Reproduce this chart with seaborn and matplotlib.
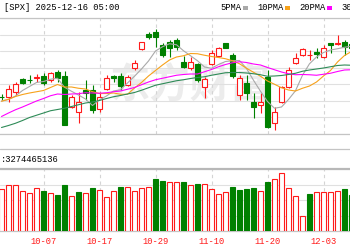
import numpy as np
import matplotlib
matplotlib.use("Agg")
import matplotlib.pyplot as plt
from matplotlib.lines import Line2D
from matplotlib.patches import Rectangle
import seaborn as sns

# ---------------- data ----------------
title_text = "[SPX] 2025-12-16 05:00"
volume_text = ":3274465136"
legend_names = ["5PMA", "10PMA", "20PMA", "30PMA"]
date_labels = ["09-25", "10-07", "10-17", "10-29", "11-10", "11-20", "12-03"]
date_label_idx = [-2, 6, 14, 22, 30, 38, 46]

opens = [6646, 6644, 6664, 6716, 6714, 6722, 6728, 6712, 6744, 6728,
         6604, 6584, 6672, 6672, 6596, 6676, 6728, 6728, 6692, 6760,
         6836, 6896, 6904, 6852, 6864, 6872, 6784, 6760, 6776, 6684,
         6776, 6808, 6860, 6812, 6652, 6700, 6624, 6612, 6724, 6540,
         6624, 6684, 6780, 6812, 6812, 6826, 6804, 6860, 6858, 6864, 6856]
highs = [6656, 6692, 6704, 6720, 6732, 6736, 6740, 6744, 6752, 6748,
         6652, 6664, 6712, 6692, 6664, 6732, 6732, 6740, 6732, 6792,
         6866, 6904, 6916, 6860, 6872, 6880, 6808, 6804, 6780, 6724,
         6832, 6844, 6862, 6820, 6732, 6732, 6660, 6660, 6752, 6604,
         6688, 6764, 6820, 6840, 6832, 6840, 6852, 6860, 6892, 6872, 6864]
lows = [6632, 6624, 6652, 6696, 6700, 6704, 6692, 6704, 6704, 6532,
        6600, 6540, 6632, 6580, 6584, 6672, 6704, 6672, 6688, 6752,
        6834, 6876, 6844, 6804, 6804, 6832, 6760, 6752, 6704, 6640,
        6772, 6804, 6840, 6720, 6632, 6632, 6560, 6580, 6520, 6512,
        6620, 6680, 6778, 6808, 6792, 6800, 6800, 6820, 6852, 6812, 6832]
closes = [6644, 6676, 6696, 6700, 6712, 6724, 6700, 6740, 6720, 6532,
          6644, 6624, 6660, 6592, 6644, 6720, 6722, 6688, 6724, 6780,
          6864, 6886, 6884, 6812, 6840, 6844, 6764, 6784, 6712, 6716,
          6820, 6840, 6842, 6728, 6720, 6660, 6604, 6624, 6524, 6584,
          6684, 6752, 6800, 6836, 6814, 6818, 6840, 6852, 6860, 6844, 6840]
volumes = [2085, 2300, 2300, 2000, 1915, 2135, 2000, 1885, 1800, 2300,
           1750, 1935, 1885, 2165, 2050, 1715, 2025, 2215, 2185, 2000,
           2135, 2215, 2585, 2515, 2435, 2435, 2435, 2300, 2350, 2350,
           2085, 1835, 1935, 2215, 2050, 2085, 2165, 2015, 2435, 2600,
           2885, 2135, 1750, 750, 1835, 1935, 1935, 1935, 2015, 2085, 1800]
ma5 = [6628, 6634, 6648, 6670, 6686, 6702, 6706, 6715, 6719, 6683,
       6667, 6652, 6636, 6610, 6633, 6648, 6668, 6673, 6700, 6727,
       6756, 6788, 6828, 6845, 6857, 6853, 6829, 6809, 6789, 6764,
       6759, 6774, 6786, 6789, 6790, 6758, 6711, 6667, 6626, 6599,
       6604, 6634, 6669, 6731, 6777, 6804, 6822, 6832, 6837, 6843, 6847]
ma10 = [6627, 6635, 6646, 6654, 6660, 6665, 6670, 6682, 6694, 6684,
        6684, 6679, 6676, 6665, 6658, 6658, 6660, 6655, 6655, 6680,
        6702, 6728, 6750, 6772, 6792, 6804, 6809, 6818, 6817, 6811,
        6806, 6802, 6797, 6789, 6777, 6759, 6743, 6727, 6708, 6695,
        6681, 6672, 6668, 6679, 6688, 6704, 6728, 6750, 6784, 6810, 6826]
ma20 = [6566, 6580, 6593, 6604, 6616, 6628, 6638, 6649, 6656, 6654,
        6656, 6657, 6661, 6660, 6659, 6661, 6665, 6668, 6675, 6682,
        6693, 6704, 6713, 6719, 6725, 6731, 6734, 6736, 6736, 6745,
        6754, 6765, 6774, 6781, 6785, 6782, 6776, 6772, 6762, 6753,
        6744, 6737, 6733, 6734, 6733, 6731, 6735, 6739, 6746, 6752, 6753]
ma30 = [6522, 6530, 6539, 6550, 6562, 6571, 6580, 6589, 6594, 6599,
        6606, 6613, 6620, 6624, 6630, 6638, 6645, 6650, 6656, 6662,
        6671, 6681, 6691, 6697, 6703, 6709, 6713, 6718, 6722, 6725,
        6731, 6736, 6741, 6742, 6742, 6740, 6737, 6733, 6727, 6728,
        6730, 6734, 6739, 6747, 6752, 6756, 6760, 6765, 6770, 6772, 6771]

# ---------------- style ----------------
sns.set_theme(style="white")
MONO = ["Liberation Mono", "DejaVu Sans Mono"]
plt.rcParams["font.family"] = MONO
RED = "#ff1a1a"
GREEN = "#008000"
MA_COLORS = ["#a9a9a9", "#f7a21b", "#ff00ff", "#2e8b57"]
LINE_C = "#c4c4c4"
GRID_C = "#e0e0e0"
W, H = 350, 250
FS = 6.3

fig = plt.figure(figsize=(W / 100, H / 100), dpi=100)
fig.patch.set_facecolor("white")


def rect(top, bottom):
    return [0, 1 - bottom / H, 1, (bottom - top) / H]


axp = fig.add_axes(rect(18, 134))
axv = fig.add_axes(rect(169, 231))

n = len(closes)
x = np.arange(n)
O = np.array(opens, float)
Hh = np.array(highs, float)
L = np.array(lows, float)
C = np.array(closes, float)
up = C >= O
cols = np.where(up, RED, GREEN)

xlim = (-1.5 / 7, -1.5 / 7 + W / 7)

# watermark
axp.text(190 / W, 1 - 86 / H, "东方财富", transform=fig.transFigure,
         ha="center", va="center", fontsize=29, color="#ececec",
         family=["Noto Sans CJK SC"], fontweight="bold", zorder=0.2)

# candles
axp.vlines(x, L, Hh, colors=cols, linewidth=0.8, zorder=2)
body_bottom = np.minimum(O, C)
body_h = np.maximum(np.abs(C - O), 1.0)
axp.bar(x, body_h, bottom=body_bottom, width=0.62,
        color=np.where(up, "white", GREEN), edgecolor=cols,
        linewidth=0.8, zorder=3)

# moving averages
for vals, colr in zip([ma5, ma10, ma20, ma30], MA_COLORS):
    sns.lineplot(x=x, y=vals, ax=axp, color=colr, linewidth=0.8,
                 legend=False, zorder=4)

axp.set_xlim(*xlim)
axp.set_ylim(6496, 6960)
axp.set_yticks(np.linspace(6496, 6960, 8))
axp.set_xticks(date_label_idx[1:])
axp.set_xticklabels([])
axp.set_yticklabels([])
axp.set_xlabel("")
axp.set_ylabel("")
axp.tick_params(length=0)
axp.grid(axis="y", color=GRID_C, linewidth=0.8, linestyle="-")
axp.grid(axis="x", color="#d4d4d4", linewidth=0.8, linestyle=(0, (3, 3)))
for s in ["left", "right"]:
    axp.spines[s].set_visible(False)
for s in ["top", "bottom"]:
    axp.spines[s].set_color(LINE_C)
    axp.spines[s].set_linewidth(0.9)

# volume
Cprev = np.r_[C[0], C[:-1]]
vup = C >= Cprev
vcols = np.where(vup, RED, GREEN)
axv.bar(x, volumes, width=0.62, color=np.where(vup, "white", GREEN),
        edgecolor=vcols, linewidth=0.8, zorder=3)
axv.set_xlim(*xlim)
axv.set_ylim(0, 3100)
axv.set_yticks(np.linspace(0, 3100, 5))
axv.set_yticklabels([])
axv.set_xticks(date_label_idx[1:])
axv.set_xticklabels(date_labels[1:], color=RED, fontsize=FS)
axv.tick_params(length=0, pad=4)
axv.grid(axis="y", color=GRID_C, linewidth=0.8, linestyle="-")
axv.grid(axis="x", color="#d4d4d4", linewidth=0.8, linestyle=(0, (3, 3)))
for s in ["left", "right"]:
    axv.spines[s].set_visible(False)
axv.spines["top"].set_color("#b8b8b8")
axv.spines["top"].set_linewidth(1.6)
axv.spines["bottom"].set_color(LINE_C)
axv.spines["bottom"].set_linewidth(0.9)

# partially visible first date label
fig.text((1.5 + 7 * date_label_idx[0]) / W, 1 - 240 / H, date_labels[0],
         ha="center", va="center", color=RED, fontsize=FS)

# separator line of the volume info bar
fig.add_artist(Line2D([0, 1], [1 - 149 / H] * 2, color=LINE_C, linewidth=0.9))

# texts
fig.text(4 / W, 1 - 8 / H, title_text, ha="left", va="center",
         fontsize=FS, color="black")
fig.text(1 / W, 1 - 159 / H, volume_text, ha="left", va="center",
         fontsize=FS, color="black")

# legend
text_x = [220, 257, 299, 341]
marker_x = [243, 285, 327, 369]
for name, tx, mx, colr in zip(legend_names, text_x, marker_x, MA_COLORS):
    fig.text(tx / W, 1 - 8 / H, name, ha="left", va="center",
             fontsize=FS, color="black")
    fig.add_artist(Rectangle((mx / W, 1 - 9.5 / H), 5 / W, 3 / H,
                             transform=fig.transFigure, color=colr, lw=0))

fig.savefig("out.png", dpi=100, facecolor="white")
